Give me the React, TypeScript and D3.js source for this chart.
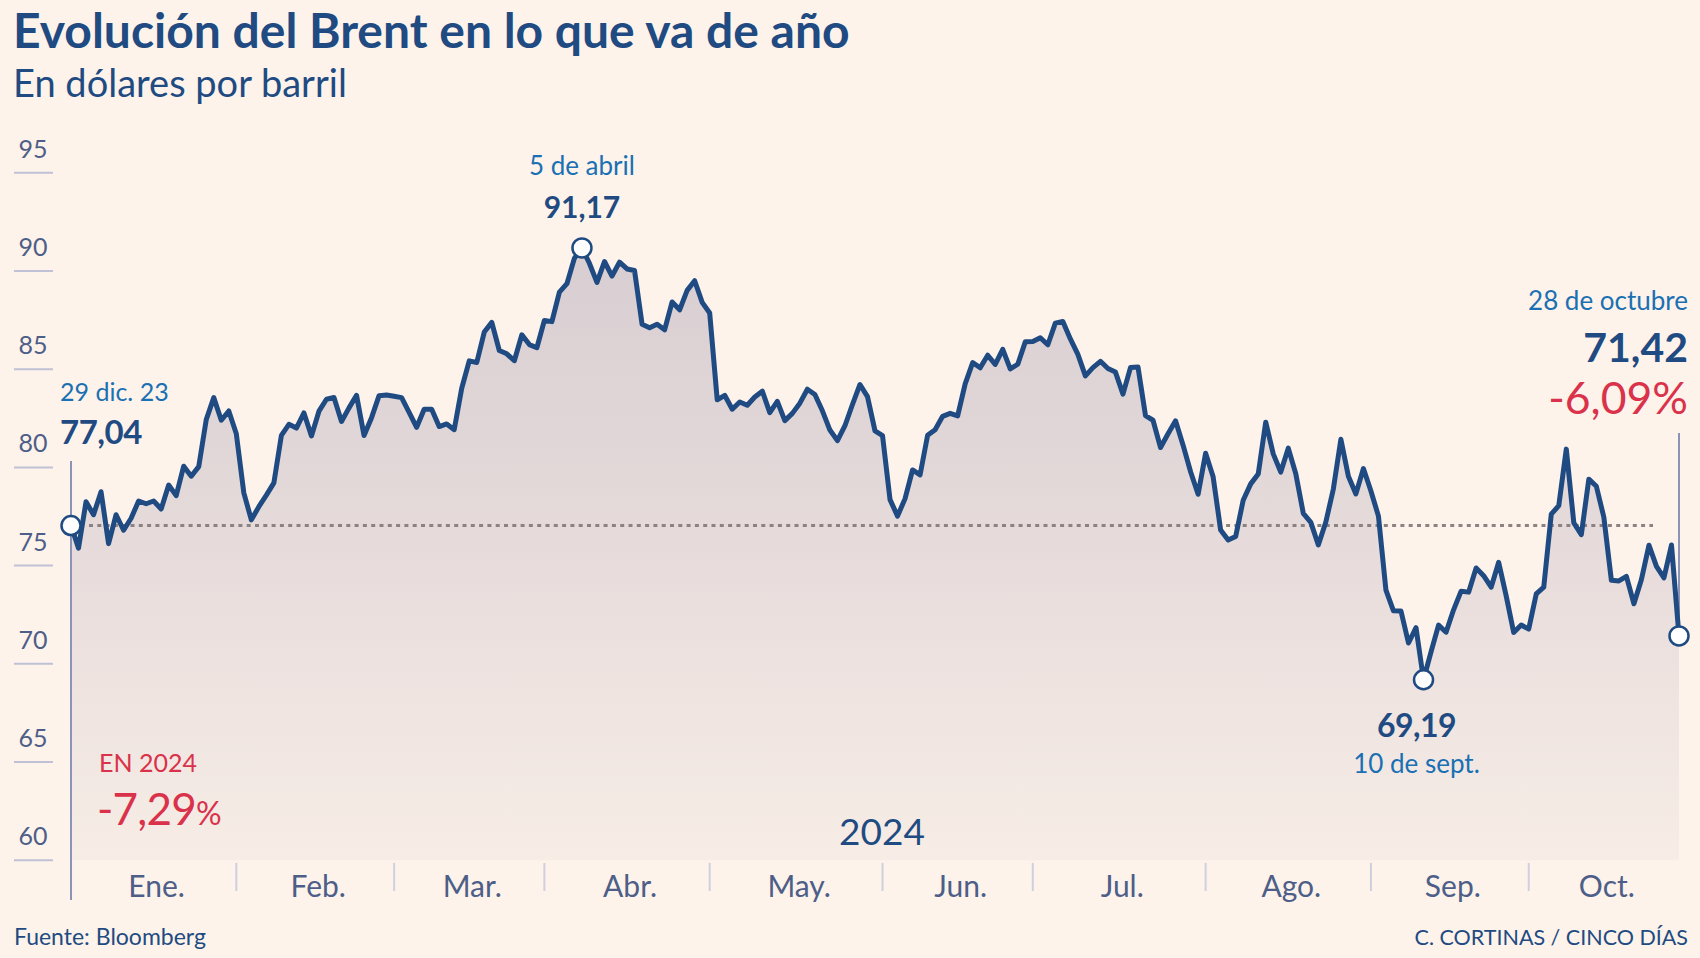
import * as d3 from "d3";
import React from "react";

// Brent, cierre diario (USD/barril), 29 dic. 2023 - 28 oct. 2024
const dic23 = [77.04];
const ene = [75.89, 78.25, 77.59, 78.76, 76.12, 77.59, 76.8, 77.41, 78.29, 78.15, 78.29, 77.88, 79.1, 78.56, 80.06, 79.55, 80.04, 82.43, 83.55, 82.4, 82.87, 81.71];
const feb = [78.7, 77.33, 78.0, 78.59, 79.21, 81.63, 82.19, 82.0, 82.77, 81.6, 82.86, 83.47, 83.56, 82.34, 83.03, 83.67, 81.62, 82.53, 83.65, 83.68, 83.62];
const mar = [83.55, 82.8, 82.04, 82.96, 82.96, 82.08, 82.21, 81.92, 84.03, 85.42, 85.34, 86.89, 87.38, 85.95, 85.78, 85.43, 86.75, 86.25, 86.09, 87.48];
const abr = [87.42, 88.92, 89.35, 90.65, 91.17, 90.38, 89.42, 90.48, 89.74, 90.45, 90.1, 90.02, 87.29, 87.11, 87.29, 87.0, 88.42, 88.02, 89.01, 89.5, 88.4, 87.86];
const may = [83.44, 83.67, 82.96, 83.33, 83.16, 83.58, 83.88, 82.79, 83.36, 82.38, 82.75, 83.27, 83.98, 83.71, 82.88, 81.9, 81.36, 82.12, 83.2, 84.22, 83.6, 81.86, 81.62];
const jun = [78.36, 77.52, 78.41, 79.87, 79.62, 81.63, 81.92, 82.6, 82.75, 82.62, 84.25, 85.33, 85.07, 85.71, 85.24, 86.01, 85.01, 85.25, 86.39, 86.41];
const jul = [86.6, 86.24, 87.34, 87.43, 86.54, 85.75, 84.66, 85.08, 85.4, 85.03, 84.85, 83.73, 85.08, 85.11, 82.63, 82.4, 81.01, 81.71, 82.37, 81.13, 79.78, 78.63, 80.72];
const ago = [79.52, 76.81, 76.3, 76.48, 78.33, 79.16, 79.66, 82.3, 80.69, 79.76, 80.98, 79.68, 77.66, 77.2, 76.05, 77.22, 78.9, 81.43, 79.55, 78.65, 79.94, 78.8];
const sep = [77.52, 73.75, 72.7, 72.69, 71.06, 71.84, 69.19, 70.61, 71.97, 71.61, 72.75, 73.7, 73.65, 74.88, 74.49, 73.9, 75.17, 73.46, 71.6, 71.98, 71.77];
const oct = [73.56, 73.9, 77.62, 78.05, 80.93, 77.18, 76.58, 79.4, 79.04, 77.46, 74.25, 74.22, 74.45, 73.06, 74.29, 76.04, 74.96, 74.38, 76.05, 71.42];

const monthLabels = ["Ene.", "Feb.", "Mar.", "Abr.", "May.", "Jun.", "Jul.", "Ago.", "Sep.", "Oct."];
const monthData = [ene, feb, mar, abr, may, jun, jul, ago, sep, oct];
const yTicks = [60, 65, 70, 75, 80, 85, 90, 95];

const prices = [...dic23, ...monthData.flat()];

const W = 1700;
const H = 958;
const DARK = "#1f4b82";
const BLUE = "#1a70b3";
const RED = "#d9324a";
const GREY = "#4d5e88";
const FONT = "Lato, 'Noto Sans', sans-serif";

export default function App() {
  const x = d3.scaleLinear().domain([0, prices.length - 1]).range([71, 1679]);
  const y = d3.scaleLinear().domain([60, 95]).range([860.3, 172.7]);

  const line = d3
    .line<number>()
    .x((_, i) => x(i))
    .y((d) => y(d));
  const area = d3
    .area<number>()
    .x((_, i) => x(i))
    .y0(y(60))
    .y1((d) => y(d));

  // month boundaries (index of last day of each month)
  const bounds: number[] = [0];
  let acc = 0;
  monthData.forEach((m) => {
    acc += m.length;
    bounds.push(acc);
  });

  const start = prices[0];
  const last = prices.length - 1;
  const iMax = d3.maxIndex(prices);
  const iMin = d3.minIndex(prices);

  return (
    <svg
      width={W}
      height={H}
      style={{ position: "absolute", left: 0, top: 0, display: "block" }}
      fontFamily={FONT}
    >
      <defs>
        <linearGradient id="fill" gradientUnits="userSpaceOnUse" x1="0" y1={y(91)} x2="0" y2={y(60)}>
          <stop offset="0" stopColor="#d8cdd1" />
          <stop offset="0.5" stopColor="#e7dcdb" />
          <stop offset="1" stopColor="#f7ede6" />
        </linearGradient>
      </defs>
      <rect width={W} height={H} fill="#fdf3ea" />

      <text x={13} y={48} fontSize={48} fontWeight={700} fill={DARK}>
        Evolución del Brent en lo que va de año
      </text>
      <text x={13} y={97} fontSize={38} fill={DARK}>
        En dólares por barril
      </text>

      {yTicks.map((t) => (
        <g key={t}>
          <line x1={14} x2={53} y1={y(t)} y2={y(t)} stroke="#c0c1d6" strokeWidth={2} />
          <text x={33} y={y(t) - 15} fontSize={25} fill={GREY} textAnchor="middle">
            {t}
          </text>
        </g>
      ))}

      <path d={area(prices) ?? ""} fill="url(#fill)" />

      <line
        x1={89}
        x2={1653}
        y1={y(start)}
        y2={y(start)}
        stroke="#8c8282"
        strokeWidth={3}
        strokeDasharray="4 4.3"
      />

      <line x1={x(0)} x2={x(0)} y1={461} y2={900} stroke="#8b93b6" strokeWidth={2} />
      <line x1={x(last)} x2={x(last)} y1={433} y2={y(prices[last])} stroke="#8b93b6" strokeWidth={2} />

      <path
        d={line(prices) ?? ""}
        fill="none"
        stroke={DARK}
        strokeWidth={5}
        strokeLinejoin="round"
        strokeLinecap="round"
      />

      {[0, iMax, iMin, last].map((i) => (
        <circle key={i} cx={x(i)} cy={y(prices[i])} r={9.5} fill="#fff" stroke={DARK} strokeWidth={2.5} />
      ))}

      {/* start */}
      <text x={x(0) - 11} y={y(start) - 125} fontSize={25} fill={BLUE}>
        29 dic. 23
      </text>
      <text x={x(0) - 11} y={y(start) - 82} fontSize={33} fontWeight={700} fill={DARK} letterSpacing={-0.5}>
        77,04
      </text>

      {/* max */}
      <text x={x(iMax)} y={y(prices[iMax]) - 73} fontSize={26} fill={BLUE} textAnchor="middle">
        5 de abril
      </text>
      <text x={x(iMax)} y={y(prices[iMax]) - 30} fontSize={30} fontWeight={700} fill={DARK} textAnchor="middle">
        91,17
      </text>

      {/* min */}
      <text x={x(iMin) - 7} y={y(prices[iMin]) + 57} fontSize={32} fontWeight={700} fill={DARK} textAnchor="middle" letterSpacing={-0.5}>
        69,19
      </text>
      <text x={x(iMin) - 7} y={y(prices[iMin]) + 93} fontSize={26} fill={BLUE} textAnchor="middle">
        10 de sept.
      </text>

      {/* last */}
      <text x={1688} y={310} fontSize={26} fill={BLUE} textAnchor="end">
        28 de octubre
      </text>
      <text x={1688} y={362} fontSize={41} fontWeight={700} fill={DARK} textAnchor="end">
        71,42
      </text>
      <text x={1688} y={414} fontSize={44.5} fill={RED} textAnchor="end">
        -6,09%
      </text>

      <text x={99} y={772} fontSize={25} fill={RED}>
        EN 2024
      </text>
      <text x={97} y={825} fontSize={44} fill={RED} letterSpacing={-0.8}>
        -7,29<tspan fontSize={32} letterSpacing={0}>%</tspan>
      </text>

      <text x={882} y={845} fontSize={37} fill={DARK} textAnchor="middle">
        2024
      </text>

      {bounds.slice(1, -1).map((b) => (
        <line key={b} x1={x(b)} x2={x(b)} y1={863} y2={891} stroke="#cfcfe0" strokeWidth={2} />
      ))}
      {monthLabels.map((m, k) => (
        <text
          key={m}
          x={(x(bounds[k]) + x(bounds[k + 1])) / 2 + 3}
          y={897}
          fontSize={30}
          fill={GREY}
          textAnchor="middle"
        >
          {m}
        </text>
      ))}

      <text x={14} y={945} fontSize={23} fill={DARK}>
        Fuente: Bloomberg
      </text>
      <text x={1688} y={945} fontSize={21.5} fill={DARK} textAnchor="end">
        C. CORTINAS / CINCO DÍAS
      </text>
    </svg>
  );
}
